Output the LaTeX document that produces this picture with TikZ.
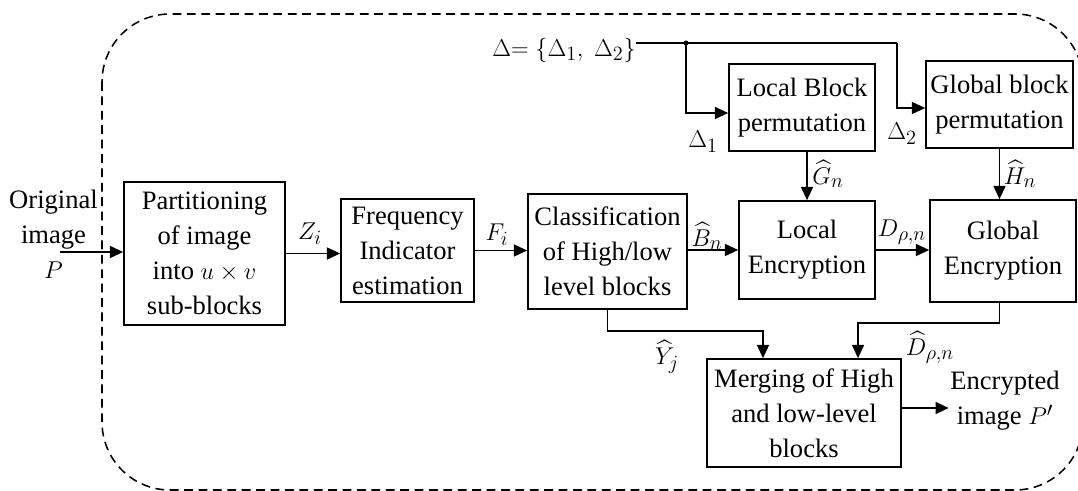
\documentclass[tikz,border=0pt]{standalone}
\usepackage{amsmath}
\usepackage{amssymb}
\usepackage{fontspec}
\setmainfont{Liberation Serif}
\usetikzlibrary{arrows.meta}

\begin{document}
\begin{tikzpicture}[x=0.025cm, y=-0.025cm,
  every node/.style={font=\fontsize{18.9}{24.9}\selectfont},
  blk/.style={draw, line width=1.2pt, align=center, inner sep=0pt},
  lbl/.style={inner sep=0pt},
  arr/.style={line width=1.1pt, -{Triangle[length=3.3mm,width=3mm]}},
  ln/.style={line width=1.1pt}]
  \useasboundingbox (0,0) rectangle (1078,491);
  \clip (0,0) rectangle (1078,491);
  \draw[line width=1.1pt, dash pattern=on 0.22cm off 0.14cm, rounded corners=1.7cm] (102,14) rectangle (1083,490);

  \node[blk, minimum width=4.025cm, minimum height=3.575cm] (part) at (204.5,253.5) {Partitioning\\of image\\into $u\times v$\\sub-blocks};
  \node[blk, minimum width=3.325cm, minimum height=2.575cm] (freq) at (407.5,250.5) {Frequency\\Indicator\\estimation};
  \node[blk, minimum width=3.975cm, minimum height=2.875cm] (class) at (607.5,251.5) {Classification\\of High/low\\level blocks};
  \node[blk, minimum width=3.65cm, minimum height=2.175cm] (lbp) at (802,107.5) {Local Block\\permutation};
  \node[blk, minimum width=3.675cm, minimum height=2.175cm] (gbp) at (999.5,104.5) {Global block\\permutation};
  \node[blk, minimum width=3.4cm, minimum height=2.45cm] (lenc) at (807,250) {Local\\Encryption};
  \node[blk, minimum width=3.65cm, minimum height=2.55cm] (genc) at (1003,251) {Global\\Encryption};
  \node[blk, minimum width=4.85cm, minimum height=2.7cm] (merge) at (804,413) {Merging of High\\and low-level\\blocks};

  \node[align=center, inner sep=0pt] (orig) at (53.5,234) {Original\\image\\$P$};
  \node[align=center, inner sep=1pt] (enc) at (1005,401) {Encrypted\\image $P'$};
  \node[anchor=east, inner sep=0pt] (delta) at (636,50) {$\Delta{=}\ \{\Delta_1,\ \Delta_2\}$};

  \coordinate (in) at (60,252);
  \coordinate (dot) at (686,43);
  \coordinate (d2) at (897,43);
  \coordinate (mo) at ([yshift=0.125cm]merge.east);

  \draw[arr] (in) -- (in -| part.west);
  \draw[arr] (part.east) -- (part.east -| freq.west);
  \draw[arr] (freq.east) -- (freq.east -| class.west);
  \draw[arr] (class.east |- lenc.west) -- (lenc.west);
  \draw[arr] (lenc.east) -- (lenc.east -| genc.west);
  \draw[arr] (lenc.north |- lbp.south) -- (lenc.north);
  \draw[arr] (gbp.south) -- (gbp.south |- genc.north);
  \draw[arr] (genc.south -| gbp.south) -- ++(0,20) -| ([xshift=1.35cm]merge.north);
  \draw[arr] (class.south) -- ++(0,21) -| ([xshift=-1.025cm]merge.north);
  \draw[arr] (mo) -- (mo -| enc.west);

  \draw[ln] (delta.east |- dot) -- (d2);
  \fill (dot) circle (2.5);
  \draw[arr] (dot) |- ([yshift=-0.1375cm]lbp.west);
  \draw[arr] (d2) |- ([yshift=-0.0875cm]gbp.west);

  \node[lbl] (zi) at (310,234) {$Z_i$};
  \node[lbl] (fi) at (497,235) {$F_i$};
  \node[lbl] (bn) at (707,236) {$\widehat{B}_n$};
  \node[lbl] (gn) at (828,174) {$\widehat{G}_n$};
  \node[lbl] (hn) at (1020,174) {$\widehat{H}_n$};
  \node[lbl] (dpn) at (902,232) {$D_{\rho,n}$};
  \node[lbl] (dhat) at (930,347) {$\widehat{D}_{\rho,n}$};
  \node[lbl] (yj) at (667,357) {$\widehat{Y}_j$};
  \node[lbl] (d1) at (703,142) {$\Delta_1$};
  \node[lbl] (dd2) at (902,134) {$\Delta_2$};
\end{tikzpicture}
\end{document}
